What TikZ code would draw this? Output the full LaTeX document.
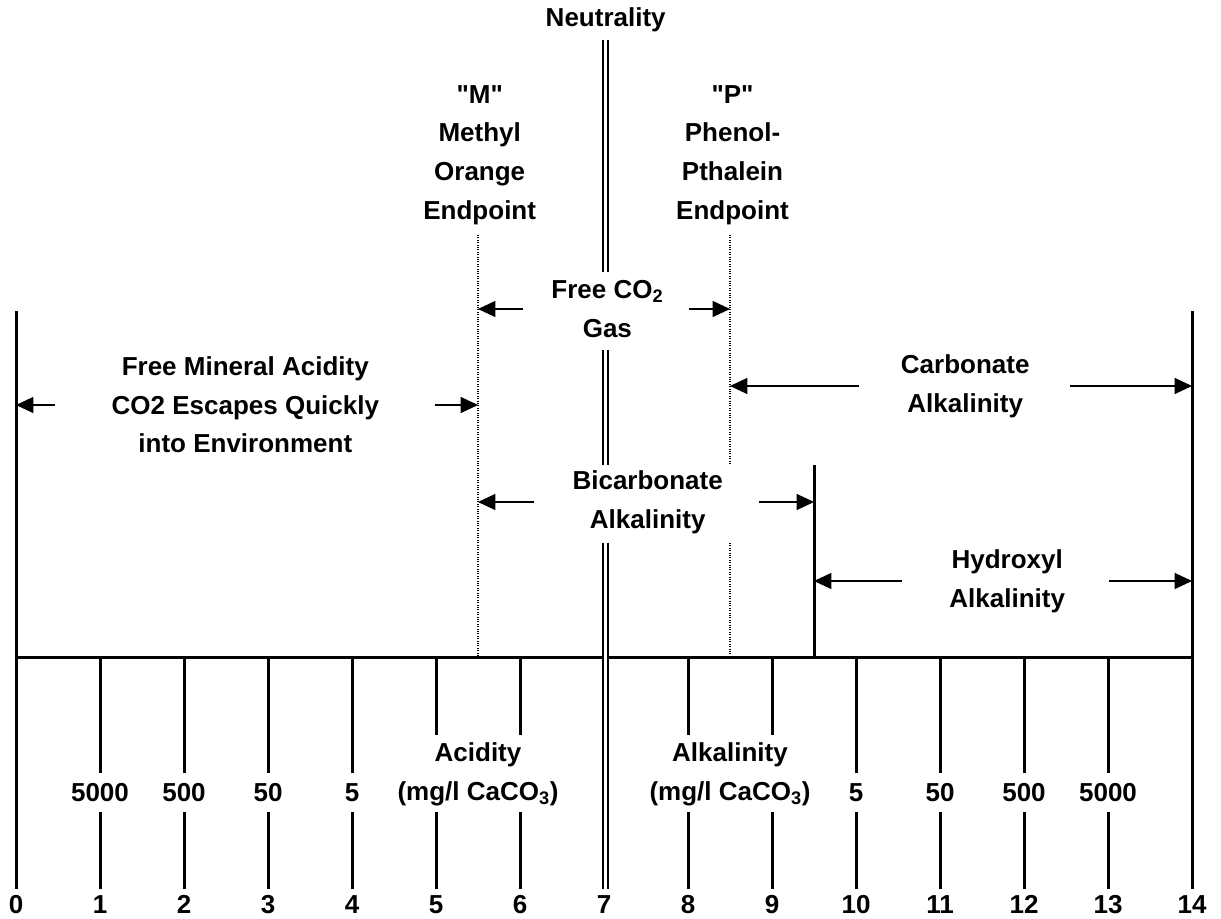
\documentclass[tikz,border=0pt]{standalone}
\usepackage{fontspec}
\setmainfont{Liberation Sans}[Ligatures=TeXOff]
\usetikzlibrary{arrows.meta}

\begin{document}
\begin{tikzpicture}[x=63pt,y=-0.75pt,>={Triangle[length=13pt,width=12pt]},
 lbl/.style={font=\fontsize{19.5}{29}\selectfont\bfseries,align=center,
 inner sep=0pt},
 bar/.style={line width=2.25pt},
 arr/.style={->,line width=0.9pt},
 endp/.style={line width=0.8pt,densely dotted}]
\useasboundingbox (-0.1905,0) rectangle (14.3452,919);
\coordinate (lo) at (0,657);
\coordinate (hi) at (14,657);
\coordinate (m) at (5.5,657);
\coordinate (p) at (8.5,657);
\coordinate (oh) at (9.5,657);
\draw[bar] (lo) -- (hi);
\draw[bar] (0,311) -- (0,889) (14,311) -- (14,889);
\foreach \i/\t in {1/773,2/773,3/773,4/773,5/735,6/735,8/735,9/735,
 10/773,11/773,12/773,13/773}
 \draw[bar] (\i,657) -- (\i,\t) (\i,812) -- (\i,889);
\foreach \i in {0,...,14}
 \node[lbl,anchor=base] (n\i) at (\i,913) {\i};
\foreach \i/\v in {1/5000,2/500,3/50,4/5,10/5,11/50,12/500,13/5000}
 \node[lbl,anchor=base] (v\i) at (\i,801) {\v};
\draw[endp] (5.5,235) -- (m);
\draw[endp] (8.5,235) -- (8.5,465) (8.5,543) -- (p);
\draw[bar] (9.5,465) -- (9.5,659);
\draw[line width=1.5pt,double,double distance=2.25pt]
 (7.02,40) -- (7.02,272) (7.02,350) -- (7.02,465) (7.02,543) -- (7.02,889);
\node[lbl] (neut) at (7.02,20) {Neutrality};
\node[lbl] (mo) at (5.52,155) {"M"\\Methyl\\Orange\\Endpoint};
\node[lbl] (pp) at (8.53,155) {"P"\\Phenol-\\Pthalein\\Endpoint};
\node[lbl] (co2) at (7.04,309) {Free CO\textsubscript{2}\\Gas};
\node[lbl] (fma) at (2.73,405)
 {Free Mineral Acidity\\CO2 Escapes Quickly\\into Environment};
\node[lbl] (carb) at (11.3,386) {Carbonate\\Alkalinity};
\node[lbl] (bicarb) at (7.52,502) {Bicarbonate\\Alkalinity};
\node[lbl] (hydr) at (11.8,581) {Hydroxyl\\Alkalinity};
\node[lbl] (acid) at (5.5,774) {Acidity\\(mg/l CaCO\textsubscript{3})};
\node[lbl] (alk) at (8.5,774) {Alkalinity\\(mg/l CaCO\textsubscript{3})};
\draw[arr] ([xshift=-42pt]fma.west) -- (fma.west -| lo);
\draw[arr] ([xshift=42pt]fma.east) -- (fma.east -| m);
\draw[arr] ([xshift=-21pt]co2.west) -- (co2.west -| m);
\draw[arr] ([xshift=19pt]co2.east) -- (co2.east -| p);
\draw[arr] ([xshift=-31pt]carb.west) -- (carb.west -| p);
\draw[arr] ([xshift=30pt]carb.east) -- (carb.east -| hi);
\draw[arr] ([xshift=-29pt]bicarb.west) -- (bicarb.west -| m);
\draw[arr] ([xshift=27pt]bicarb.east) -- (bicarb.east -| oh);
\draw[arr] ([xshift=-35pt]hydr.west) -- (hydr.west -| oh);
\draw[arr] ([xshift=33pt]hydr.east) -- (hydr.east -| hi);
\end{tikzpicture}
\end{document}
